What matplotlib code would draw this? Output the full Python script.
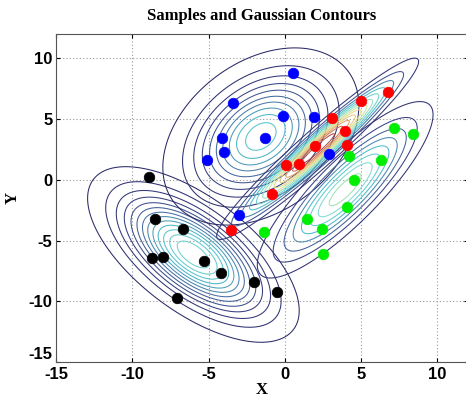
"""
Samples from four 2-D classes with the Gaussian fitted to each class
drawn as contour rings.
"""
import numpy as np
import matplotlib

matplotlib.use("Agg")
import matplotlib.pyplot as plt
from matplotlib.colors import LinearSegmentedColormap, Normalize

plt.rcParams["axes.unicode_minus"] = False

# ---- samples ----
blue_x = [0.5, -3.38, -0.11, 1.9, -4.13, -1.31, -4.0, -5.1, 2.9, -3.03]
blue_y = [8.76, 6.28, 5.29, 5.18, 3.47, 3.47, 2.26, 1.65, 2.15, -2.87]

red_x = [6.79, 5.0, 3.08, 3.91, 1.96, 4.1, 0.09, 0.9, -0.83, -3.54]
red_y = [7.19, 6.47, 5.07, 4.05, 2.75, 2.83, 1.18, 1.27, -1.21, -4.1]

green_x = [7.12, 8.38, 4.21, 6.29, 4.5, 4.1, 1.42, 2.4, -1.4, 2.49]
green_y = [4.3, 3.75, 1.93, 1.63, 0.0, -2.2, -3.22, -4.02, -4.3, -6.12]

black_x = [-8.91, -8.51, -6.7, -8.71, -8.01, -5.28, -4.21, -2.01, -0.52, -7.09]
black_y = [0.25, -3.22, -4.02, -6.42, -6.34, -6.69, -7.69, -8.4, -9.26, -9.7]

# contour rings per class: outermost level as a fraction of the peak, ring count
ring_outer = [0.045, 0.05, 0.11, 0.075]
ring_count = [13, 10, 8, 12]

xticks = [-15, -10, -5, 0, 5, 10]
yticks = [-15, -10, -5, 0, 5, 10]

classes = [
    (black_x, black_y, "black"),
    (blue_x, blue_y, "#0000ff"),
    (green_x, green_y, "#00ee00"),
    (red_x, red_y, "#ff0000"),
]

# washed-out jet, as the old matlab export looks
ring_cmap = LinearSegmentedColormap.from_list(
    "oldjet",
    [
        (0.0, "#2a2a68"),
        (0.10, "#363c80"),
        (0.22, "#4a78a8"),
        (0.32, "#4cc0cc"),
        (0.45, "#80dcd0"),
        (0.60, "#d8e89a"),
        (0.75, "#e8c878"),
        (0.88, "#d88a5a"),
        (1.0, "#b04848"),
    ],
)


def gauss_pdf(xx, yy, mu, cov):
    inv = np.linalg.inv(cov)
    dx = xx - mu[0]
    dy = yy - mu[1]
    q = inv[0, 0] * dx * dx + 2 * inv[0, 1] * dx * dy + inv[1, 1] * dy * dy
    return np.exp(-0.5 * q) / (2 * np.pi * np.sqrt(np.linalg.det(cov)))


gx, gy = np.meshgrid(np.linspace(-15, 12, 450), np.linspace(-15, 12, 450))

# fit a gaussian to each class (ML estimate)
fields = []
level_sets = []
for (xs, ys, _), f_out, n in zip(classes, ring_outer, ring_count):
    pts = np.vstack([xs, ys])
    mu = pts.mean(axis=1)
    cov = np.cov(pts, bias=True)
    z = gauss_pdf(gx, gy, mu, cov)
    fields.append(z)
    level_sets.append(np.linspace(f_out, 0.93, n) * z.max())

lo = min(lv.min() for lv in level_sets)
hi = max(lv.max() for lv in level_sets)
norm = Normalize(vmin=lo, vmax=hi)

fig = plt.figure(figsize=(4.66, 4.0), dpi=100)
ax = fig.add_axes([56 / 466, 38 / 400, 412 / 466, 328 / 400])

for z, lv in zip(fields, level_sets):
    ax.contour(gx, gy, z, levels=lv, cmap=ring_cmap, norm=norm, linewidths=0.75)

for xs, ys, c in classes:
    ax.scatter(xs, ys, s=58, color=c, edgecolors=c, linewidths=0.5, zorder=5)

ax.set_xlim(-15, 12)
ax.set_ylim(-15, 12)
ax.set_xticks(xticks)
ax.set_yticks(yticks)
ax.grid(True, color="#9a9a9a", linestyle=(0, (1, 2)), linewidth=0.8)
ax.tick_params(direction="in", length=3, top=True, right=True)
ax.tick_params(axis="x", pad=3.5)
ax.tick_params(axis="y", pad=2.5)
for lab in ax.get_xticklabels() + ax.get_yticklabels():
    lab.set_fontfamily("Liberation Sans")
    lab.set_fontweight("bold")
    lab.set_fontsize(12)
# bottom y label sits a little above its tick, clear of the x labels
ax.get_yticklabels()[0].set_verticalalignment("bottom")
for sp in ax.spines.values():
    sp.set_color("#555555")

serif = {"family": "Liberation Serif", "weight": "bold"}
ax.set_title("Samples and Gaussian Contours", fontdict=serif, fontsize=12, pad=10)
ax.set_xlabel("X", fontdict=serif, fontsize=12, labelpad=0)
ax.set_ylabel("Y", fontdict=serif, fontsize=12, labelpad=6)

fig.savefig("out.png", dpi=100)
